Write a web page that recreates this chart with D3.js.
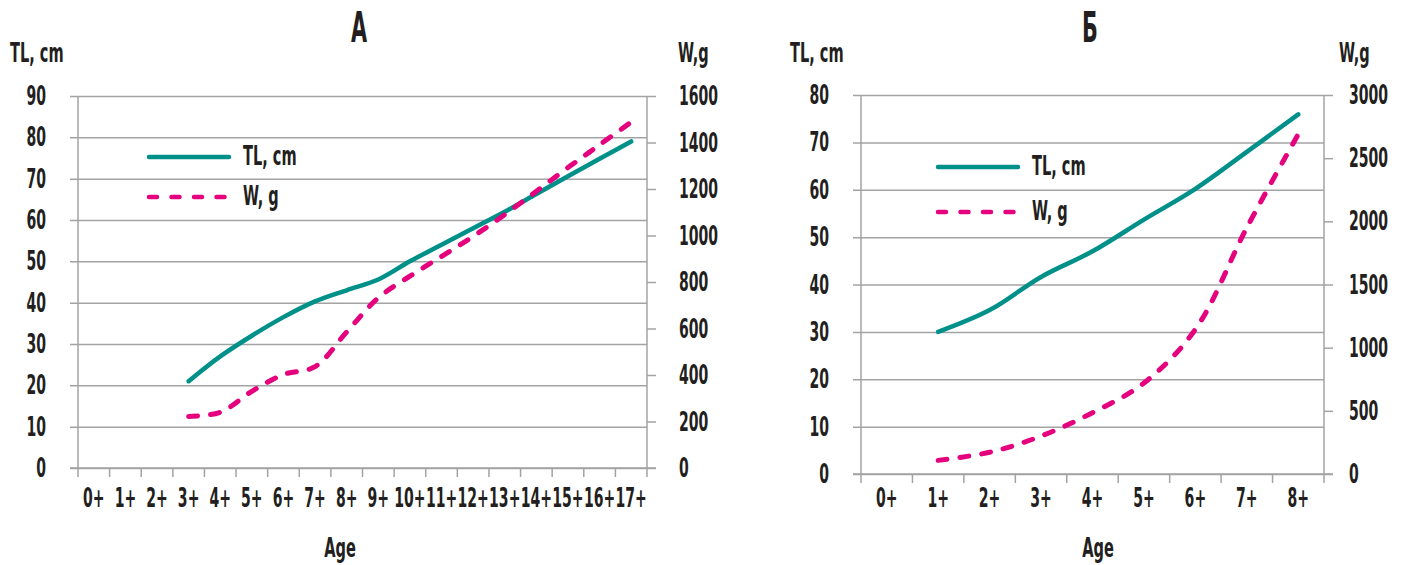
<!DOCTYPE html>
<html>
<head>
<meta charset="utf-8">
<script src="https://cdn.jsdelivr.net/npm/d3@7"></script>
<style>
  body { margin: 0; background: #fff; }
  text { font-family: "DejaVu Sans Condensed", "DejaVu Sans", sans-serif; font-weight: bold; fill: #231f20; }
</style>
</head>
<body>
<div id="chart-area"></div>
<script>
// --- data ---
var agesA = ["0+","1+","2+","3+","4+","5+","6+","7+","8+","9+","10+","11+","12+","13+","14+","15+","16+","17+"];
var tlA = [null, null, null, 21, 27, 32, 36.5, 40.3, 43, 45.6, 50, 54, 58, 62, 66.3, 70.6, 74.8, 79];
var wA  = [null, null, null, 222, 240, 330, 402, 436, 585, 732, 825, 910, 996, 1090, 1190, 1292, 1390, 1488];
var tlTicksA = [0,10,20,30,40,50,60,70,80,90];
var wTicksA  = [0,200,400,600,800,1000,1200,1400,1600];

var agesB = ["0+","1+","2+","3+","4+","5+","6+","7+","8+"];
var tlB = [null, 30, 34.6, 41.6, 47, 53.7, 60.2, 68, 75.9];
var wB  = [null, 108, 172, 300, 485, 720, 1145, 1950, 2690];
var tlTicksB = [0,10,20,30,40,50,60,70,80];
var wTicksB  = [0,500,1000,1500,2000,2500,3000];

var TEAL = "#00908a", PINK = "#e5007e", GRID = "#a3a3a3";
var SX = 0.6; // squeeze text horizontally, the source face is condensed

var svg = d3.select("#chart-area")
	.append("svg")
		.attr("width", 1403)
		.attr("height", 565);

function txt(sel, x, y, s, size, anchor, sx) {
	return sel.append("text")
		.attr("transform", "translate(" + x + "," + y + ") scale(" + (sx || SX) + ",1)")
		.attr("text-anchor", anchor)
		.style("font-size", size + "px")
		.text(s);
}

function drawChart(o) {
	var g = svg.append("g");
	var x0 = o.left, x1 = o.right, yTop = o.top, yBot = o.bottom;

	var x = d3.scaleBand().domain(o.ages).range([x0, x1]).padding(0);
	var xEdge = d3.scaleLinear().domain([0, o.ages.length]).range([x0, x1]);
	var yL = d3.scaleLinear().domain([0, d3.max(o.tlTicks)]).range([yBot, yTop]);
	var yR = d3.scaleLinear().domain([0, d3.max(o.wTicks)]).range([yBot, yTop]);

	// horizontal gridlines (also form the left ticks)
	g.append("g")
		.attr("transform", "translate(" + x1 + ",0)")
		.call(d3.axisLeft(yL).tickValues(o.tlTicks).tickSize(x1 - x0 + 8).tickFormat(""))
		.call(function(a){ a.select(".domain").remove(); })
		.selectAll("line").attr("stroke", GRID).attr("stroke-width", 1.5);

	// right ticks
	g.append("g")
		.attr("transform", "translate(" + x1 + ",0)")
		.call(d3.axisRight(yR).tickValues(o.wTicks).tickSize(9).tickFormat(""))
		.call(function(a){ a.select(".domain").remove(); })
		.selectAll("line").attr("stroke", GRID).attr("stroke-width", 1.5);

	// baseline and vertical ticks at category edges
	g.append("line")
		.attr("x1", x0 - 8).attr("x2", x1 + 9)
		.attr("y1", yBot).attr("y2", yBot)
		.attr("stroke", GRID).attr("stroke-width", 1.5);
	g.selectAll(".xt").data(d3.range(o.ages.length + 1)).enter()
		.append("line")
			.attr("x1", function(d){ return xEdge(d); })
			.attr("x2", function(d){ return xEdge(d); })
			.attr("y1", function(d){ return (d == 0 || d == o.ages.length) ? yTop : yBot; })
			.attr("y2", yBot + 9)
			.attr("stroke", GRID).attr("stroke-width", 1.5);

	// tick labels
	o.tlTicks.forEach(function(t){ txt(g, x0 - 32, yL(t) + 9, t, 26, "end"); });
	o.wTicks.forEach(function(t){ txt(g, x1 + o.rGap, yR(t) + 9, t, 26, "start"); });
	o.ages.forEach(function(a){ txt(g, x(a) + x.bandwidth() / 2, 507, a, 26, "middle"); });

	// titles
	txt(g, o.titleX, 42, o.title, 42, "middle", 0.55);
	txt(g, o.tlTitleX, 62, "TL, cm", 27, "start");
	txt(g, o.wTitleX, 62, "W,g", 27, "start");
	txt(g, o.ageX, 557, "Age", 27, "middle");

	// series
	function mk(yScale) {
		return d3.line()
			.defined(function(d){ return d != null; })
			.x(function(d, i){ return x(o.ages[i]) + x.bandwidth() / 2; })
			.y(function(d){ return yScale(d); })
			.curve(d3.curveCatmullRom);
	}
	g.append("path")
		.attr("d", mk(yL)(o.tl))
		.attr("fill", "none").attr("stroke", TEAL).attr("stroke-width", 4.5)
		.attr("stroke-linecap", "round").attr("stroke-linejoin", "round");
	g.append("path")
		.attr("d", mk(yR)(o.w))
		.attr("fill", "none").attr("stroke", PINK).attr("stroke-width", 5)
		.attr("stroke-dasharray", "9,13").attr("stroke-linecap", "round");

	// legend
	var lg = g.append("g").attr("transform", "translate(" + o.legX + "," + o.legY + ")");
	lg.append("line").attr("x1", 0).attr("x2", 80).attr("y1", 0).attr("y2", 0)
		.attr("stroke", TEAL).attr("stroke-width", 4.5).attr("stroke-linecap", "round");
	txt(lg, 94, 8, "TL, cm", 27, "start");
	lg.append("line").attr("x1", 0).attr("x2", 80).attr("y1", o.legGap).attr("y2", o.legGap)
		.attr("stroke", PINK).attr("stroke-width", 4.5)
		.attr("stroke-dasharray", "8,14.5").attr("stroke-linecap", "round");
	txt(lg, 94, o.legGap + 8, "W, g", 27, "start");
}

drawChart({
	ages: agesA, tl: tlA, w: wA, tlTicks: tlTicksA, wTicks: wTicksA,
	left: 78, right: 647, top: 96, bottom: 468, rGap: 32,
	title: "А", titleX: 359, tlTitleX: 10, wTitleX: 678, ageX: 340,
	legX: 149, legY: 157, legGap: 40
});

drawChart({
	ages: agesB, tl: tlB, w: wB, tlTicks: tlTicksB, wTicks: wTicksB,
	left: 861, right: 1324, top: 95, bottom: 474, rGap: 25,
	title: "Б", titleX: 1090, tlTitleX: 790, wTitleX: 1339, ageX: 1098,
	legX: 938, legY: 167, legGap: 45
});
</script>
</body>
</html>
